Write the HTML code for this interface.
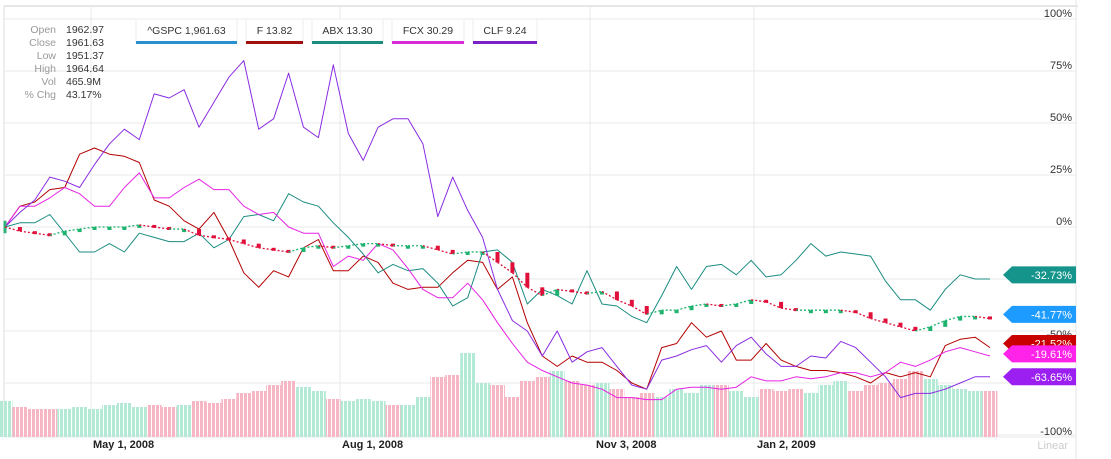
<!DOCTYPE html>
<html><head><meta charset="utf-8"><style>
body{margin:0;background:#fff;width:1111px;height:459px;overflow:hidden;font-family:"Liberation Sans",sans-serif}
svg{display:block}
</style></head><body>
<svg id="chart" width="1111" height="459">
<defs>
<pattern id="stripeR" width="4" height="10" patternUnits="userSpaceOnUse"><rect width="3" height="10" fill="#f7b6c3"/></pattern>
<pattern id="stripeG" width="4" height="10" patternUnits="userSpaceOnUse"><rect width="3" height="10" fill="#b3ead6"/></pattern>
</defs>
<g id="grid"></g>
<g id="vol"></g>
<g id="lines"></g>
<g id="candles"></g>
<g id="axis"></g>
<g id="tags"></g>
<g font-size="10.5">
<g fill="#999" text-anchor="end">
<text x="56" y="33">Open</text>
<text x="56" y="46">Close</text>
<text x="56" y="59">Low</text>
<text x="56" y="72">High</text>
<text x="56" y="85">Vol</text>
<text x="56" y="98">% Chg</text>
</g>
<g fill="#333">
<text x="66" y="33">1962.97</text>
<text x="66" y="46">1961.63</text>
<text x="66" y="59">1951.37</text>
<text x="66" y="72">1964.64</text>
<text x="66" y="85">465.9M</text>
<text x="66" y="98">43.17%</text>
</g>
</g>
<g id="legend" font-size="10.5"></g>
<g font-size="11" font-weight="bold" fill="#222">
<text x="93" y="448">May 1, 2008</text>
<text x="342" y="448">Aug 1, 2008</text>
<text x="596" y="448">Nov 3, 2008</text>
<text x="757" y="448">Jan 2, 2009</text>
</g>
<text x="1068" y="449" font-size="11" fill="#ccc" text-anchor="end">Linear</text>
</svg>
<script>
const spx=[0,-2,-3,-4,-2,-1,0,0,0,1,0,-1,-1,-4,-5,-6,-8,-10,-11,-12,-10,-9,-10,-9,-8,-8,-9,-9,-9,-11,-13,-12,-12,-17,-22,-29,-33,-30,-31,-32,-31,-35,-38,-42,-40,-40,-38,-37,-38,-37,-35,-36,-39,-40,-40,-40,-40,-41,-44,-46,-48,-50,-48,-45,-43,-43,-44];
const fSer=[0,10,12,18,19,35,38,35,34,31,13,10,3,-1,7,-6,-22,-29,-21,-24,-10,-6,-21,-21,-14,-17,-27,-30,-29,-29,-22,-16,-17,-30,-24,-46,-62,-67,-62,-65,-65,-69,-75,-78,-58,-56,-46,-53,-50,-64,-64,-56,-64,-67,-69,-69,-70,-72,-75,-70,-72,-70,-72,-57,-54,-53,-58];
const abx=[0,2,2,6,-3,-12,-12,-8,-12,-3,-5,-7,-7,-3,-10,-6,5,6,3,16,12,10,2,-5,-13,-22,-18,-21,-20,-27,-38,-34,-12,-11,-17,-37,-30,-33,-37,-21,-37,-38,-43,-46,-33,-19,-30,-19,-18,-23,-16,-24,-23,-16,-8,-14,-12,-13,-14,-26,-35,-35,-40,-30,-23,-25,-25];
const fcx=[0,10,10,14,19,16,10,10,19,26,14,14,19,23,18,18,10,6,7,0,-3,-3,-19,-14,-16,-8,-11,-20,-30,-34,-34,-27,-35,-46,-56,-65,-69,-72,-75,-76,-78,-82,-82,-83,-83,-78,-77,-77,-78,-77,-72,-74,-74,-72,-73,-72,-70,-70,-72,-70,-65,-67,-64,-60,-58,-60,-62];
const clf=[0,7,13,24,22,19,30,40,47,42,64,62,66,48,60,72,80,47,52,74,48,43,78,45,32,48,52,52,40,5,24,8,-5,-30,-45,-50,-62,-50,-65,-60,-58,-67,-76,-78,-64,-62,-59,-57,-65,-57,-53,-61,-67,-67,-62,-63,-55,-58,-65,-72,-82,-80,-80,-78,-75,-72,-72];
const volume=[1.8,1.5,1.4,1.4,1.4,1.5,1.4,1.6,1.7,1.5,1.6,1.5,1.6,1.8,1.7,1.9,2.2,2.3,2.6,2.8,2.5,2.3,1.9,1.8,1.9,1.8,1.6,1.6,2.0,3.0,3.1,4.2,2.7,2.6,2.0,2.8,3.0,3.3,2.8,2.6,2.7,2.4,2.0,2.2,2.0,2.4,2.2,2.6,2.6,2.3,2.0,2.4,2.3,2.4,2.2,2.6,2.8,2.3,2.6,2.7,2.9,3.3,2.9,2.6,2.4,2.3,2.3];
const yTicks=[100,75,50,25,0,-25,-50,-100];
const yGrid=[100,75,50,25,0,-25,-50,-75,-100];
const xGridDates=[91,340,590,754];
const seriesNames=["F","ABX","FCX","CLF"];
const legendLabels=["^GSPC 1,961.63","F 13.82","ABX 13.30","FCX 30.29","CLF 9.24"];
const tagLabels=["-32.73%","-41.77%","-21.52%","-19.61%","-63.65%"];
const tagValues=[-23,-42,-56,-61,-72];

const NS="http://www.w3.org/2000/svg";
const N=spx.length;
const X=i=>5+i*(985/(N-1));
const Y=p=>227-p*2.08;
const VY=v=>437-v*20;
function mk(tag,attrs,parent){const e=document.createElementNS(NS,tag);for(const k in attrs)e.setAttribute(k,attrs[k]);parent.appendChild(e);return e;}
const grid=document.getElementById('grid');
mk('line',{x1:4,y1:6,x2:1078,y2:6,stroke:'#ccc'},grid);
mk('line',{x1:4,y1:6,x2:4,y2:437,stroke:'#ddd'},grid);
mk('line',{x1:1076,y1:0,x2:1076,y2:459,stroke:'#e6e6e6'},grid);
yGrid.forEach(p=>{const l=mk('line',{x1:4,y1:Y(p),x2:1076,y2:Y(p),stroke:'#e8e8e8'},grid);

});
xGridDates.forEach(x=>{const l=mk('line',{x1:x,y1:6,x2:x,y2:437,stroke:'#e8e8e8'},grid);

});
mk('line',{x1:4,y1:437,x2:1076,y2:437,stroke:'#e8e8e8'},grid);

const vol=document.getElementById('vol');
const w=985/(N-1);
volume.forEach((v,i)=>{const up=i===0||spx[i]>=spx[i-1];
const r=mk('rect',{x:X(i)-w/2,y:VY(v),width:w,height:437-VY(v),fill:up?'url(#stripeG)':'url(#stripeR)'},vol);

});

const lines=document.getElementById('lines');
const sers=[fSer,abx,fcx,clf];const cols=['#b30000','#1a8c80','#e622e6','#8a2be2'];
sers.forEach((s,j)=>{const d=s.map((v,i)=>(i?'L':'M')+X(i).toFixed(1)+' '+Y(v).toFixed(1)).join('');
const p=mk('path',{d:d,fill:'none',stroke:cols[j],'stroke-width':1,'stroke-linejoin':'round'},lines);

});

const cg=document.getElementById('candles');
spx.forEach((v,i)=>{if(i===0){const c=mk('rect',{x:X(0)-1.5,y:Y(3),width:3,height:Y(-3)-Y(3),fill:'#2db37a'},cg);return;}
const pv=spx[i-1];const up=v>=pv;const col=up?'#1db36e':'#e0103a';
const s=mk('line',{x1:X(i-1),y1:Y(pv),x2:X(i),y2:Y(v),stroke:col,'stroke-width':1.3,'stroke-dasharray':'2 2'},cg);


const top=Math.min(Y(v),Y(pv)),h=Math.max(3,Math.abs(Y(v)-Y(pv)));
const c=mk('rect',{x:X(i)-2,y:top,width:4,height:h,fill:col},cg);

});

const ax=document.getElementById('axis');
yTicks.forEach(p=>{const t=mk('text',{x:1072,y:Y(p)+(p===-50?7:p===-100?0:-2),'font-size':11,fill:'#333','text-anchor':'end'},ax);t.textContent=p+'%';

});

const tg=document.getElementById('tags');const tcols=['#14948a','#1e9bff','#c80000','#ff22e8','#9b1ff0'];
tagValues.forEach((v,i)=>{const cy=Y(v);
const g=mk('g',{},tg);


mk('path',{d:`M1003 ${cy} L1012 ${cy-8.5} L1076 ${cy-8.5} L1076 ${cy+8.5} L1012 ${cy+8.5}Z`,fill:tcols[i]},g);
const t=mk('text',{x:1072,y:cy+4,'font-size':11,fill:'#fff','text-anchor':'end'},g);t.textContent=tagLabels[i];});

const lg=document.getElementById('legend');
const lx=[136,246,312,392,473],lw=[101,57,71,72,64];const lc=['#2a8fcf','#a01010','#1a8c80','#d82ad8','#7a22c8'];
legendLabels.forEach((s,i)=>{const g=mk('g',{},lg);


mk('rect',{x:lx[i],y:19,width:lw[i],height:24,fill:'#fff',stroke:'#eee'},g);
const t=mk('text',{x:lx[i]+lw[i]/2,y:34,'text-anchor':'middle',fill:'#333'},g);t.textContent=s;
mk('rect',{x:lx[i],y:41,width:lw[i],height:3,fill:lc[i]},g);});
</script>
</body></html>
